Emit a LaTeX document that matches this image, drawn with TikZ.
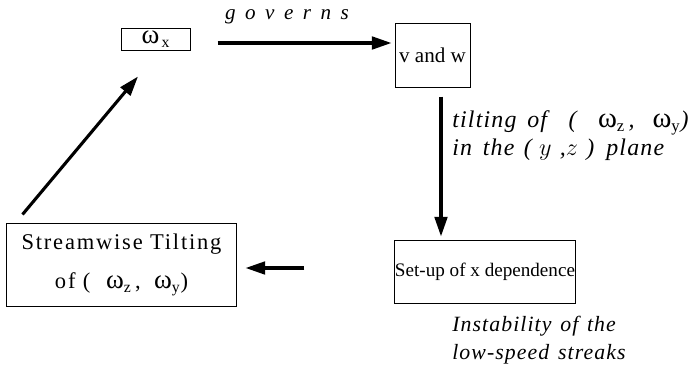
\documentclass[tikz,border=0pt]{standalone}
\usepackage{fontspec}
\setmainfont{Liberation Serif}
\usepackage{tikz}
\usetikzlibrary{arrows.meta}
\tikzset{
  box/.style={draw=black, line width=0.7pt, inner sep=0pt, align=center, font=\fontsize{13.6}{20}\selectfont},
  arr/.style={draw=black, line width=2.2pt, -{Triangle[length=14pt,width=9pt]}},
  lab/.style={font=\fontsize{17}{20}\selectfont\itshape\addfontfeatures{LetterSpace=5}, align=left, inner sep=0pt},
}
\newcommand{\omsub}[1]{{\upshape\scalebox{1.2}{ω}\textsubscript{#1}}}
\newcommand{\gap}{\hspace{0.45em}}

\begin{document}
\begin{tikzpicture}[x=0.025cm, y=-0.025cm]
  \useasboundingbox (0,0) rectangle (693,377);
  \node[box, font=\fontsize{16}{20}\selectfont, minimum width=1.7cm, minimum height=0.55cm] (wx) at (156,39) {\scalebox{1.2}{ω}\hspace{0.1em}\textsubscript{x}};
  \node[box, font=\fontsize{15}{20}\selectfont, minimum width=1.875cm, minimum height=1.6cm] (vw) at (432.5,55) {v and w};
  \node[box, minimum width=4.5cm, minimum height=1.575cm] (setup) at (485,271.5) {Set-up of x dependence};
  \node[box, font=\fontsize{16}{28}\selectfont\addfontfeatures{LetterSpace=8}, minimum width=5.725cm, minimum height=2.075cm] (stream) at (121.5,264.5)
    {Streamwise Tilting\\of (\hspace{0.7em}\omsub{z}\hspace{0.15em},\hspace{0.6em}\omsub{y})};
  % connectors
  \draw[arr, shorten <=0.675cm, shorten >=0.075cm] ([yshift=-0.1cm]wx.east) -- ([yshift=-0.1cm]wx.east -| vw.west);
  \draw[arr, shorten <=0.225cm, shorten >=0.075cm] ([xshift=0.2125cm]vw.south) -- ([xshift=0.2125cm]vw.south |- setup.north);
  \draw[arr, shorten <=2.25cm, shorten >=0.225cm] ([yshift=0.0875cm]setup.west) -- ([yshift=0.0875cm]setup.west -| stream.east);
  \draw[arr] ([shift={(16,-8)}]stream.north west) -- ([shift={(-18,26)}]wx.south);
  % labels
  \node[lab, font=\fontsize{15}{20}\selectfont\itshape] (lgov) at (287,17) {g\gap o\gap v\gap e\gap r\gap n\gap s};
  \node[lab, anchor=west] (ltilt) at (452,136)
    {tilting\hspace{0.45em}of\hspace{0.9em}(\hspace{0.9em}\omsub{z}\hspace{0.15em},\hspace{0.75em}\omsub{y})\\
     in\hspace{0.45em}the\hspace{0.4em}(\hspace{0.3em}$y$\hspace{0.35em},$z$\hspace{0.35em})\hspace{0.5em}plane};
  \node[lab, font=\fontsize{15.5}{20}\selectfont\itshape\addfontfeatures{LetterSpace=5}, anchor=west] (linst) at (452,340) {Instability\hspace{0.4em}of\hspace{0.4em}the\\low-speed\hspace{0.4em}streaks};
\end{tikzpicture}
\end{document}
